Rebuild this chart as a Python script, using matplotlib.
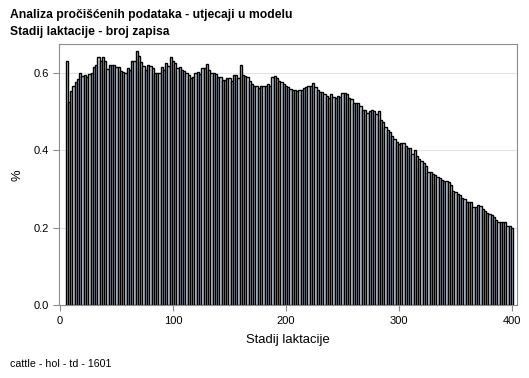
import numpy as np
import matplotlib
matplotlib.use("Agg")
import matplotlib.pyplot as plt

plt.rcParams['font.family'] = ['Liberation Sans', 'DejaVu Sans']

# lactation stage (days, bar centres) and share of records (%)
days = list(range(6, 401, 2))
share = [
    0.631, 0.524, 0.554, 0.567, 0.576, 0.585, 0.598, 0.592, 0.594, 0.590,
    0.597, 0.600, 0.616, 0.619, 0.641, 0.629, 0.641, 0.629, 0.610, 0.620,
    0.620, 0.620, 0.614, 0.616, 0.604, 0.602, 0.598, 0.612, 0.606, 0.630,
    0.631, 0.657, 0.643, 0.627, 0.618, 0.608, 0.619, 0.618, 0.612, 0.599,
    0.599, 0.599, 0.615, 0.607, 0.626, 0.618, 0.641, 0.629, 0.626, 0.611,
    0.616, 0.607, 0.605, 0.600, 0.594, 0.587, 0.589, 0.600, 0.602, 0.597,
    0.611, 0.613, 0.622, 0.606, 0.600, 0.600, 0.597, 0.589, 0.588, 0.582,
    0.580, 0.587, 0.587, 0.578, 0.595, 0.595, 0.587, 0.619, 0.595, 0.592,
    0.589, 0.578, 0.572, 0.567, 0.567, 0.561, 0.567, 0.567, 0.567, 0.570,
    0.567, 0.588, 0.592, 0.587, 0.578, 0.575, 0.572, 0.567, 0.564, 0.558,
    0.555, 0.555, 0.553, 0.555, 0.555, 0.561, 0.564, 0.567, 0.567, 0.574,
    0.563, 0.555, 0.550, 0.550, 0.544, 0.541, 0.535, 0.544, 0.538, 0.535,
    0.541, 0.538, 0.548, 0.548, 0.546, 0.535, 0.531, 0.523, 0.522, 0.522,
    0.514, 0.503, 0.503, 0.497, 0.501, 0.503, 0.501, 0.493, 0.501, 0.478,
    0.472, 0.459, 0.452, 0.446, 0.436, 0.428, 0.421, 0.415, 0.418, 0.418,
    0.410, 0.407, 0.405, 0.390, 0.400, 0.385, 0.378, 0.372, 0.368, 0.360,
    0.345, 0.343, 0.340, 0.336, 0.330, 0.328, 0.323, 0.322, 0.322, 0.318,
    0.310, 0.296, 0.292, 0.288, 0.284, 0.276, 0.274, 0.268, 0.268, 0.266,
    0.255, 0.255, 0.258, 0.256, 0.249, 0.243, 0.238, 0.235, 0.232, 0.228,
    0.221, 0.215, 0.215, 0.215, 0.215, 0.206, 0.204, 0.201,
]

x_ticks = [0, 100, 200, 300, 400]
y_ticks = [0.0, 0.2, 0.4, 0.6]

fig = plt.figure(figsize=(5.29, 3.78), dpi=100)
ax = fig.add_axes([0.1115, 0.1918, 0.8658, 0.6918])

ax.bar(days, share, width=2, color='#C9D5E6', edgecolor='black', linewidth=1.0, zorder=2)

ax.set_xlim(-0.9, 404.4)
ax.set_ylim(0, 0.674)
ax.set_xticks(x_ticks)
ax.set_yticks(y_ticks)
ax.set_yticklabels([f"{v:.1f}" for v in y_ticks])
ax.grid(axis='y', color='#E3E3E3', linewidth=0.8, zorder=0)
ax.set_axisbelow(True)

for sp in ax.spines.values():
    sp.set_color('#8C8C8C')
    sp.set_linewidth(0.8)
ax.tick_params(colors='#8C8C8C', labelcolor='black', labelsize=8, length=4, width=0.8)

ax.set_xlabel('Stadij laktacije', fontsize=9.4, labelpad=6)
ax.set_ylabel('%', fontsize=9.4, labelpad=7)

fig.text(10 / 529, 1 - 15 / 378, 'Analiza pročišćenih podataka - utjecaji u modelu',
         fontsize=8.7, fontweight='bold', va='center', ha='left')
fig.text(10 / 529, 1 - 32 / 378, 'Stadij laktacije - broj zapisa',
         fontsize=8.7, fontweight='bold', va='center', ha='left')
fig.text(10 / 529, 1 - 364 / 378, 'cattle - hol - td - 1601',
         fontsize=7.7, va='center', ha='left')

fig.savefig('out.png', dpi=100)
